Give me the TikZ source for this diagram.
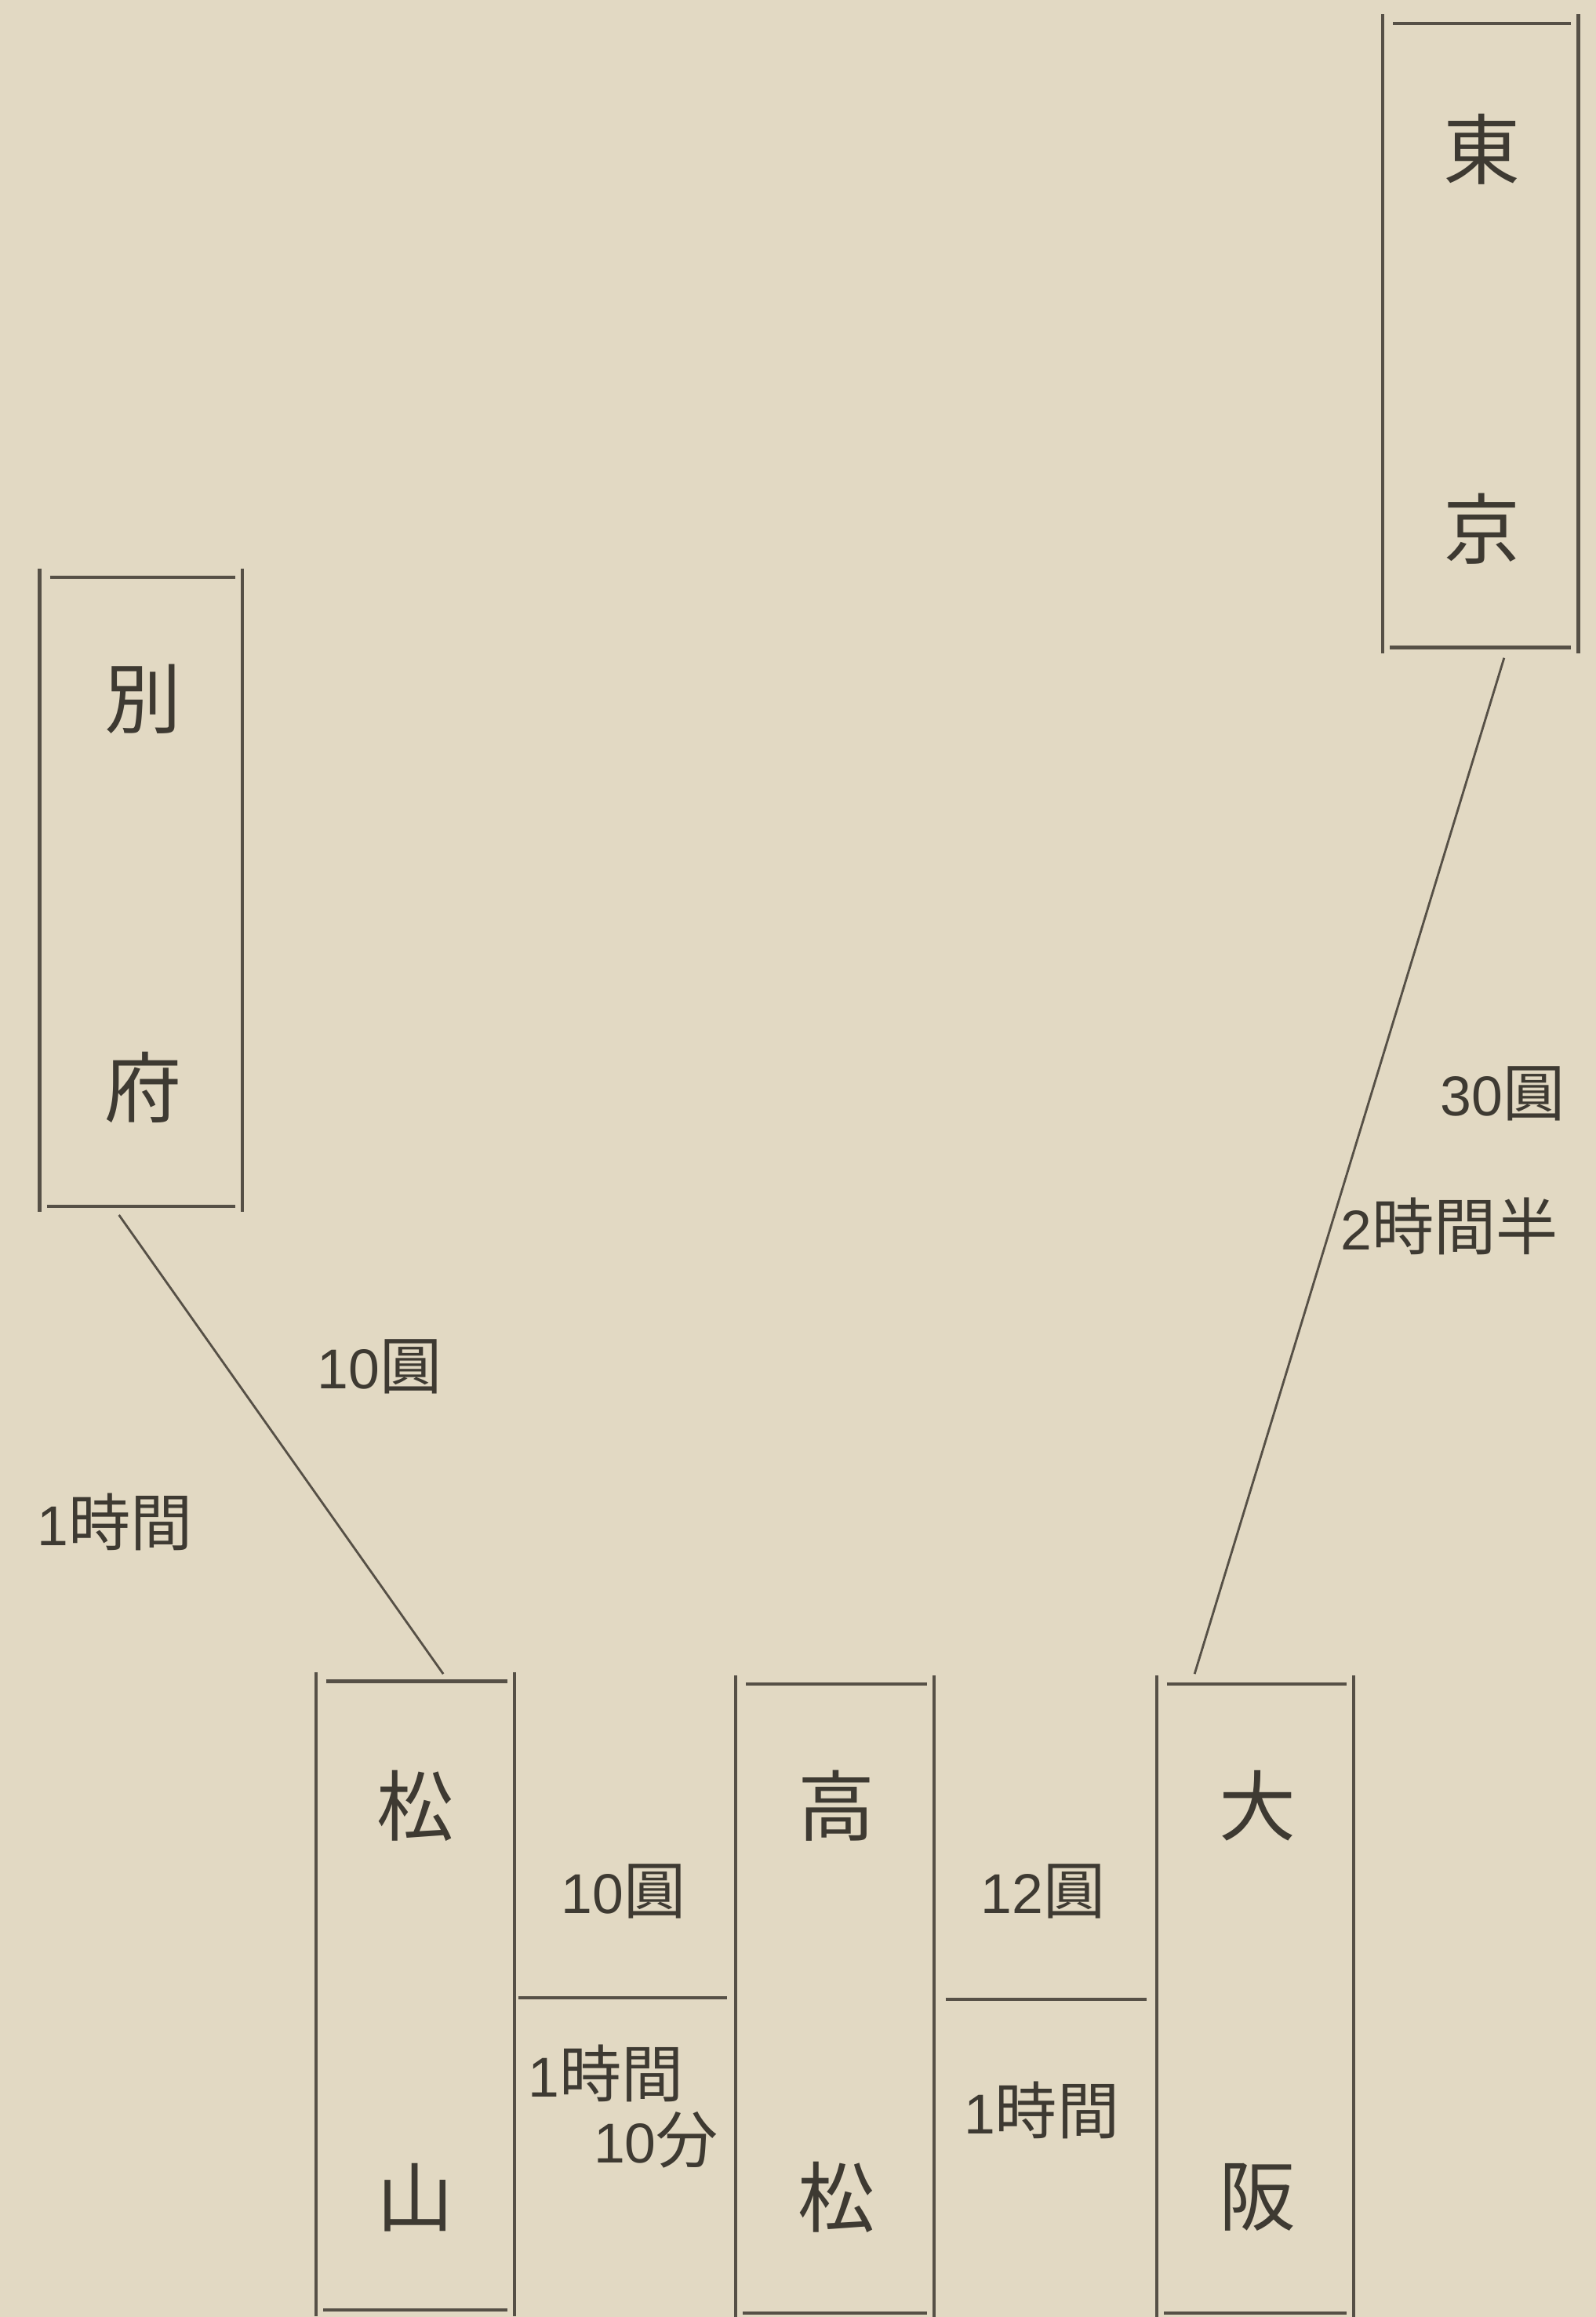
\documentclass[tikz,border=0pt]{standalone}
\usepackage{fontspec}
\setmainfont{Liberation Sans}
\newfontfamily\jp{Noto Sans CJK JP}
\usetikzlibrary{calc}
\definecolor{paper}{RGB}{226,217,195}
\definecolor{ink}{RGB}{86,80,70}
\definecolor{txt}{RGB}{62,58,50}
\newcommand\lbl[2]{{\fontsize{38}{40}\selectfont #1}{\jp\fontsize{42}{44}\selectfont #2}}
\begin{document}
\begin{tikzpicture}[x=1pt,y=-1pt,
  stationbox/.style 2 args={minimum width=#1, minimum height=#2, inner sep=0pt, draw=none},
  place/.style={text=txt, inner sep=0pt, font=\jp\fontsize{52}{52}\selectfont},
  info/.style={text=txt, inner sep=0pt},
  rule/.style={draw=ink, line width=2.2pt},
  link/.style={draw=ink, line width=1.5pt}]
\fill[paper] (0,0) rectangle (1080,1568);
\useasboundingbox (0,0) rectangle (1080,1568);

% station boxes
\node[stationbox={132pt}{422pt}] (tokyo) at (1002,227) {};
\node[stationbox={137pt}{425pt}] (beppu) at (95.5,603.5) {};
\node[stationbox={134pt}{425pt}] (matsu) at (281,1350.5) {};
\node[stationbox={134pt}{425pt}] (taka)  at (565,1352.5) {};
\node[stationbox={133pt}{425pt}] (osaka) at (849.5,1352.5) {};

\foreach \n in {tokyo,beppu,matsu,taka,osaka}{
  \draw[rule] ([yshift=6pt]\n.north west) -- ([yshift=-4pt]\n.south west);
  \draw[rule] ([yshift=6pt]\n.north east) -- ([yshift=-4pt]\n.south east);
  \draw[rule] ([xshift=7pt]\n.north west) -- ([xshift=-5pt]\n.north east);
  \draw[rule] ([xshift=5pt]\n.south west) -- ([xshift=-5pt]\n.south east);
}

% place names
\node[place] (t1) at (1003,101) {東};
\node[place] (t2) at (1003,358) {京};
\node[place] (b1) at (97,473) {別};
\node[place] (b2) at (97,736) {府};
\node[place] (m1) at (281,1222) {松};
\node[place] (m2) at (281,1487) {山};
\node[place] (k1) at (566,1222) {高};
\node[place] (k2) at (566,1487) {松};
\node[place] (o1) at (851,1222) {大};
\node[place] (o2) at (851,1487) {阪};

% dividers between bottom boxes
\coordinate (d1a) at (351,1352);
\coordinate (d1b) at (492,1352);
\coordinate (d2a) at (640,1353);
\coordinate (d2b) at (776,1353);
\draw[rule] (d1a) -- (d1b);
\draw[rule] (d2a) -- (d2b);

% connectors
\coordinate (bp) at ($(beppu.south)+(-15,6)$);
\coordinate (ma) at ($(matsu.north)+(19,-5)$);
\coordinate (tk) at ($(tokyo.south)+(16,7)$);
\coordinate (os) at ($(osaka.north)+(-41,-7)$);
\draw[link] (bp) -- (ma);
\draw[link] (tk) -- (os);

% labels
\node[info] (l1) at (257,925) {\lbl{10}{圓}};
\node[info] (l2) at (78,1030) {\lbl{1}{時間}};
\node[info] (l3) at (1017,740) {\lbl{30}{圓}};
\node[info] (l4) at (981,830) {\lbl{2}{時間半}};
\node[info] (l5) at (422,1280) {\lbl{10}{圓}};
\node[info] (l6) at (410,1403) {\lbl{1}{時間}};
\node[info] (l7) at (444,1448) {\lbl{10}{分}};
\node[info] (l8) at (706,1280) {\lbl{12}{圓}};
\node[info] (l9) at (705,1428) {\lbl{1}{時間}};
\end{tikzpicture}
\end{document}
